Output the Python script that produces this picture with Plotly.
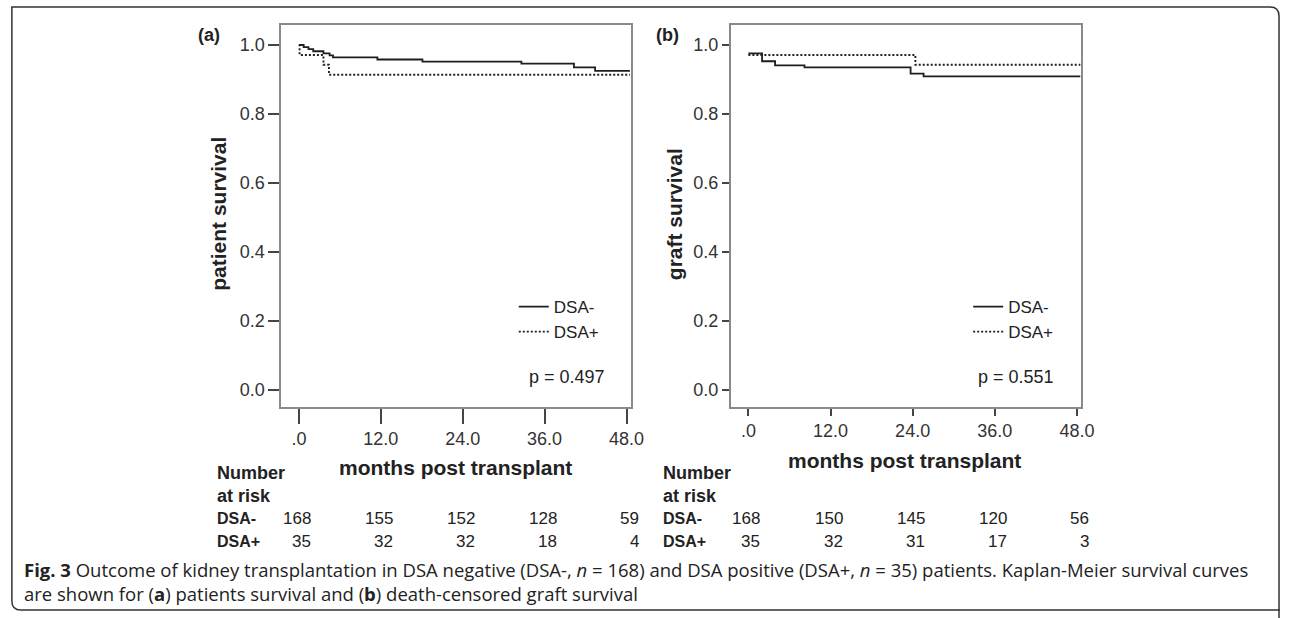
import plotly.graph_objects as go

W, H = 1293, 618
ARIAL = "Liberation Sans, Arial, sans-serif"
CAPF = "Open Sans, Noto Sans, sans-serif"

# ---- data ----
months_a_neg = [0, 0.7, 1.4, 2.1, 3.6, 4.5, 5.0, 11.5, 18.1, 32.6, 40.3, 43.4, 48.5]
surv_a_neg = [1.0, 0.994, 0.988, 0.982, 0.976, 0.970, 0.964, 0.958, 0.952, 0.946, 0.935, 0.925, 0.925]
months_a_pos = [0, 0.1, 3.6, 4.4, 48.5]
surv_a_pos = [1.0, 0.971, 0.943, 0.914, 0.914]

months_b_neg = [0, 2.0, 3.9, 8.2, 23.7, 25.6, 48.5]
surv_b_neg = [0.976, 0.953, 0.941, 0.935, 0.917, 0.909, 0.909]
months_b_pos = [0, 24.4, 48.5]
surv_b_pos = [0.971, 0.943, 0.943]

risk_times = [0, 12, 24, 36, 48]
risk_a_neg = [168, 155, 152, 128, 59]
risk_a_pos = [35, 32, 32, 18, 4]
risk_b_neg = [168, 150, 145, 120, 56]
risk_b_pos = [35, 32, 31, 17, 3]

x_tickvals = [0, 12, 24, 36, 48]
x_ticktext = [".0", "12.0", "24.0", "36.0", "48.0"]
y_tickvals = [0.0, 0.2, 0.4, 0.6, 0.8, 1.0]
y_ticktext = ["0.0", "0.2", "0.4", "0.6", "0.8", "1.0"]
p_values = ["p = 0.497", "p = 0.551"]
group_names = ["DSA-", "DSA+"]
caption_lines = [
    "<b>Fig. 3</b> Outcome of kidney transplantation in DSA negative (DSA-, <i>n</i> = 168) "
    "and DSA positive (DSA+, <i>n</i> = 35) patients. Kaplan-Meier survival curves",
    "are shown for (<b>a</b>) patients survival and (<b>b</b>) death-censored graft survival",
]


def px(x):
    return x / W


def py(y):
    return 1 - y / H


solid = dict(color="#1e1e1e", width=1.8, shape="hv")
dotted = dict(color="#1e1e1e", width=1.9, shape="hv", dash="2px,2px")

fig = go.Figure()
fig.add_trace(go.Scatter(x=months_a_neg, y=surv_a_neg, mode="lines", line=solid,
                         name=group_names[0], xaxis="x", yaxis="y", legend="legend"))
fig.add_trace(go.Scatter(x=months_a_pos, y=surv_a_pos, mode="lines", line=dotted,
                         name=group_names[1], xaxis="x", yaxis="y", legend="legend"))
fig.add_trace(go.Scatter(x=months_b_neg, y=surv_b_neg, mode="lines", line=solid,
                         name=group_names[0], xaxis="x2", yaxis="y2", legend="legend2"))
fig.add_trace(go.Scatter(x=months_b_pos, y=surv_b_pos, mode="lines", line=dotted,
                         name=group_names[1], xaxis="x2", yaxis="y2", legend="legend2"))

ydom = [py(407), py(25)]
xa = dict(range=[-2.6, 48.6], tickvals=x_tickvals, ticktext=x_ticktext,
          showgrid=False, zeroline=False, showline=True, mirror=True,
          linecolor="#8a8a8a", linewidth=1.5, ticks="outside",
          tickcolor="#444", tickwidth=1.5,
          tickfont=dict(family=ARIAL, size=18, color="#333"), fixedrange=True)
ya = dict(range=[-0.049, 1.058], tickvals=y_tickvals, ticktext=y_ticktext,
          showgrid=False, zeroline=False, showline=True, mirror=True,
          linecolor="#8a8a8a", linewidth=1.5, ticks="outside",
          tickcolor="#444", tickwidth=1.5, domain=ydom,
          tickfont=dict(family=ARIAL, size=18, color="#333"), fixedrange=True)

legend_common = dict(xanchor="left", yanchor="top", bgcolor="rgba(0,0,0,0)",
                     borderwidth=0, itemwidth=30, tracegroupgap=0,
                     font=dict(family=ARIAL, size=17, color="#222"))

fig.update_layout(
    width=W, height=H, margin=dict(l=0, r=0, t=0, b=0),
    paper_bgcolor="white", plot_bgcolor="white",
    xaxis=dict(xa, domain=[px(284), px(637)], anchor="y", ticklen=15),
    yaxis=dict(ya, anchor="x", ticklen=11),
    xaxis2=dict(xa, domain=[px(738), px(1092)], anchor="y2", ticklen=7),
    yaxis2=dict(ya, anchor="x2", ticklen=7),
    legend=dict(legend_common, x=px(519), y=py(289)),
    legend2=dict(legend_common, x=px(978), y=py(289)),
    showlegend=True,
)

ann = []


def add_text(text, x, y, size, xanchor="center", xref="paper", xshift=0, angle=0,
             family=ARIAL, color="#222"):
    ann.append(dict(text=text, x=x if xref != "paper" else px(x), y=py(y),
                    xref=xref, yref="paper", xanchor=xanchor, yanchor="middle",
                    xshift=xshift, textangle=angle, showarrow=False, align="left",
                    font=dict(family=family, size=size, color=color)))


# panel letters
add_text("<b>(a)</b>", 211, 35, 18)
add_text("<b>(b)</b>", 674, 35, 18)
# axis titles
add_text("<b>patient survival</b>", 220, 214, 21, angle=-90)
add_text("<b>graft survival</b>", 681, 214, 21, angle=-90)
add_text("<b>months post transplant</b>", 460, 467, 21)
add_text("<b>months post transplant</b>", 914, 460, 21)
# p values
add_text(p_values[0], 532, 377, 18, xanchor="left")
add_text(p_values[1], 986, 377, 18, xanchor="left")
# number at risk tables
for xl, xref, rows in [(217, "x", (risk_a_neg, risk_a_pos)), (668, "x2", (risk_b_neg, risk_b_pos))]:
    add_text("<b>Number</b><br><b>at risk</b>", xl, 484, 18, xanchor="left")
    for gname, vals, yc in zip(group_names, rows, [518, 541]):
        add_text("<b>%s</b>" % gname, xl, yc, 16, xanchor="left")
        for t, v in zip(risk_times, vals):
            add_text(str(v), t, yc, 17, xanchor="right", xref=xref, xshift=14)

# caption (two lines in one text block)
add_text("<br>".join(caption_lines), 22, 581, 18.5, xanchor="left", family=CAPF)
fig.update_layout(annotations=ann)


# figure frame (rounded top-right and bottom-left corners)
def P(x, y):
    return "%.5f,%.5f" % (px(x), py(y))


frame = ("M " + P(1292, 618) + " L " + P(1292, 16) + " Q " + P(1292, 7) + " " + P(1283, 7) +
         " L " + P(12, 7) + " L " + P(12, 601) + " Q " + P(12, 610) + " " + P(21, 610) +
         " L " + P(1293, 610))
fig.update_layout(shapes=[dict(type="path", path=frame, xref="paper", yref="paper",
                               line=dict(color="#333", width=1.5))])

fig.write_html("out.html", config={"displayModeBar": False},
               post_script="document.body.style.margin='0px';document.body.style.overflow='hidden';")
